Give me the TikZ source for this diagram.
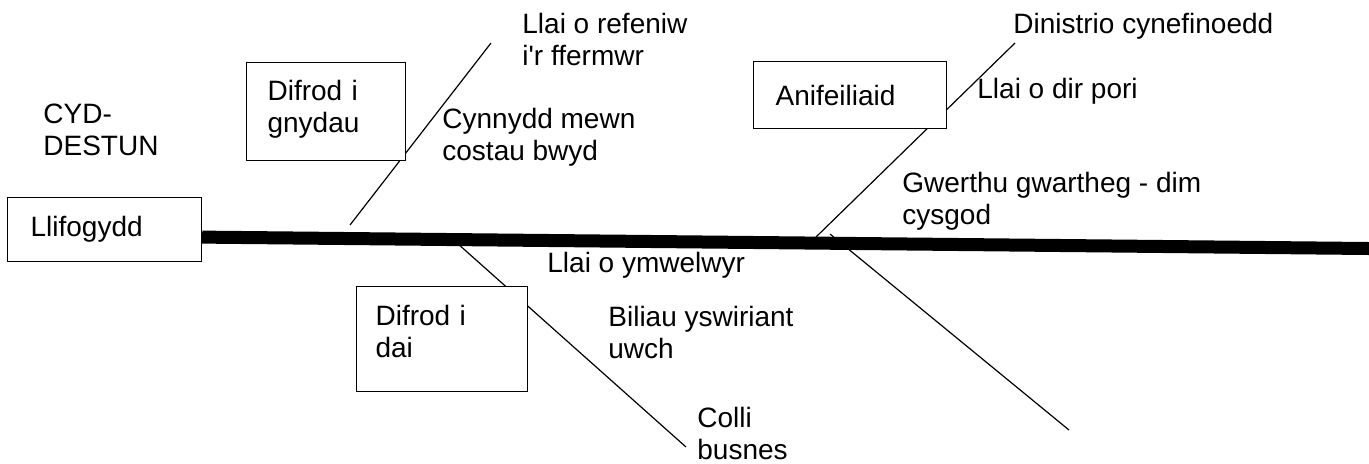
\documentclass[tikz,border=0pt]{standalone}
\usepackage{fontspec}
\setmainfont{Liberation Sans}
\usetikzlibrary{positioning}

\begin{document}
\begin{tikzpicture}[x=0.5pt,y=-0.5pt,
		every node/.style={font=\fontsize{14}{16}\selectfont},
		box/.style={draw,fill=white,line width=0.6pt,anchor=north west,align=left},
		lbl/.style={anchor=base west,align=left,inner sep=0pt},
		bone/.style={line width=0.6pt}]
			\useasboundingbox (0,0) rectangle (1369,463);

			% free ends of the bones
			\coordinate (b1in) at (350,225);
			\coordinate (b1out) at (491,43);
			\coordinate (b2in) at (816,237);
			\coordinate (b2out) at (1015,43);
			\coordinate (b3in) at (457,243);
			\coordinate (b3out) at (686,447);
			\coordinate (b4in) at (830,234);
			\coordinate (b4out) at (1069,430);
			\coordinate (head) at (1369,248.5);

			\draw [bone] (b1in) -- (b1out);
			\draw [bone] (b2in) -- (b2out);
			\draw [bone] (b3in) -- (b3out);
			\draw [bone] (b4in) -- (b4out);

			\node (flood) at (7,197) [box,text width=74pt,inner xsep=11.5pt,minimum height=32pt] {Llifogydd};
			\node (crops) at (246,62) [box,text width=58.5pt,inner xsep=10.5pt,minimum height=49pt] {Difrod i\\gnydau\\[-11pt]\mbox{}};
			\node (animals) at (753,61) [box,text width=74.5pt,inner xsep=11pt,minimum height=33.5pt] {Anifeiliaid};
			\node (houses) at (356,286) [box,text width=66.5pt,inner xsep=9.5pt,minimum height=52.5pt] {Difrod i\\dai\\[-8pt]\mbox{}};

			\draw [line width=6.5pt] ([yshift=-3.75pt]flood.east) -- (head);

			% labels: anchor is the baseline of the last line
			\node (context) at (43,155) [lbl] {CYD-\\DESTUN};
			\node (income) at (522,65) [lbl] {Llai o refeniw\\i\textquotesingle r ffermwr};
			\node (foodcost) at (442,160) [lbl] {Cynnydd mewn\\costau bwyd};
			\node (habitat) at (1013,33) [lbl] {Dinistrio cynefinoedd};
			\node (grazing) at (977,98) [lbl] {Llai o dir pori};
			\node (cattle) at (902,224) [lbl] {Gwerthu gwartheg - dim\\cysgod};
			\node (visitors) at (547,272) [lbl] {Llai o ymwelwyr};
			\node (insurance) at (608,358) [lbl] {Biliau yswiriant\\uwch};
			\node (business) at (697,459) [lbl] {Colli\\busnes};

		\end{tikzpicture}
\end{document}
